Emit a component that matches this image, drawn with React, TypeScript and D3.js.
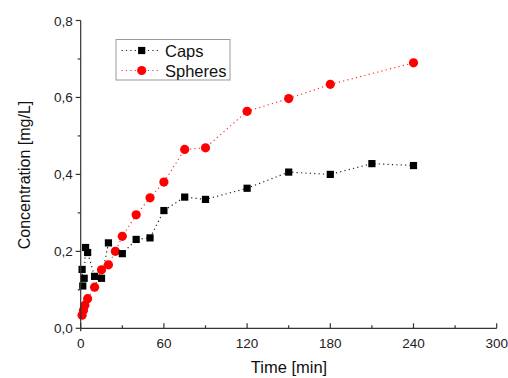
import React from "react";
import * as d3 from "d3";

const capsTime = [1, 1.5, 2.5, 3.5, 5, 10, 15, 20, 30, 40, 50, 60, 75, 90, 120, 150, 180, 210, 240];
const capsConc = [0.153, 0.11, 0.13, 0.21, 0.197, 0.135, 0.13, 0.222, 0.194, 0.231, 0.235, 0.306, 0.341, 0.335, 0.364, 0.406, 0.4, 0.428, 0.423];
const sphTime = [1, 2, 3, 5, 10, 15, 20, 25, 30, 40, 50, 60, 75, 90, 120, 150, 180, 240];
const sphConc = [0.034, 0.047, 0.06, 0.077, 0.107, 0.152, 0.165, 0.2, 0.239, 0.295, 0.339, 0.38, 0.465, 0.469, 0.564, 0.597, 0.634, 0.69];
const xTicks = [0, 60, 120, 180, 240, 300];
const xMinor = [30, 90, 150, 210, 270];
const yTicks = [0, 0.2, 0.4, 0.6, 0.8];
const yMinor = [0.1, 0.3, 0.5, 0.7];

const W = 508, H = 378;
const L = 80.7, R = 496.7, T = 20.5, B = 328.3;
const font = "'Liberation Sans', Arial, sans-serif";

export default function App() {
  const x = d3.scaleLinear().domain([0, 300]).range([L, R]);
  const y = d3.scaleLinear().domain([0, 0.8]).range([B, T]);
  const line = d3.line<[number, number]>().x(d => x(d[0])).y(d => y(d[1]));
  const caps: [number, number][] = capsTime.map((t, i) => [t, capsConc[i]]);
  const sph: [number, number][] = sphTime.map((t, i) => [t, sphConc[i]]);
  const fmt = (v: number) => v.toFixed(1).replace(".", ",");
  const axisColor = "#333";
  return (
    <svg width={W} height={H} style={{ position: "absolute", left: 0, top: 0, background: "#fff" }}>
      <rect width={W} height={H} fill="#fff" />
      <path d={line(sph) || ""} fill="none" stroke="#ff3030" strokeWidth={1.2} strokeDasharray="1.2,3.2" />
      <path d={line(caps) || ""} fill="none" stroke="#222" strokeWidth={1.2} strokeDasharray="1.2,3.2" />
      {sph.map((d, i) => (
        <circle key={"s" + i} cx={x(d[0])} cy={y(d[1])} r={4.6} fill="#f00" />
      ))}
      {caps.map((d, i) => (
        <rect key={"c" + i} x={x(d[0]) - 3.6} y={y(d[1]) - 3.6} width={7.2} height={7.2} fill="#000" />
      ))}
      <line x1={L} x2={L} y1={T} y2={B + 3} stroke={axisColor} strokeWidth={1.2} />
      <line x1={L} x2={R} y1={B} y2={B} stroke={axisColor} strokeWidth={1.2} />
      {yTicks.map(v => (
        <g key={"y" + v}>
          <line x1={L - 5} x2={L} y1={y(v)} y2={y(v)} stroke={axisColor} strokeWidth={1.2} />
          <text x={L - 8} y={y(v) + 5} textAnchor="end" fontFamily={font} fontSize={13.5} fill="#222">{fmt(v)}</text>
        </g>
      ))}
      {yMinor.map(v => (
        <line key={"ym" + v} x1={L - 3} x2={L} y1={y(v)} y2={y(v)} stroke={axisColor} strokeWidth={1.2} />
      ))}
      {xTicks.map(v => (
        <g key={"x" + v}>
          <line x1={x(v)} x2={x(v)} y1={B - 5} y2={B} stroke={axisColor} strokeWidth={1.2} />
          <text x={x(v)} y={B + 20} textAnchor="middle" fontFamily={font} fontSize={13.5} fill="#222">{v}</text>
        </g>
      ))}
      {xMinor.map(v => (
        <line key={"xm" + v} x1={x(v)} x2={x(v)} y1={B - 3} y2={B} stroke={axisColor} strokeWidth={1.2} />
      ))}
      <text x={289} y={373} textAnchor="middle" fontFamily={font} fontSize={16.5} fill="#111">Time [min]</text>
      <text transform={`translate(30,175) rotate(-90)`} textAnchor="middle" fontFamily={font} fontSize={16} fill="#111">Concentration [mg/L]</text>
      <rect x={116} y={39.5} width={114} height={40.5} fill="#fff" stroke="#999" strokeWidth={1} />
      <line x1={121.5} x2={160} y1={50.5} y2={50.5} stroke="#222" strokeWidth={1.2} strokeDasharray="1.2,3.2" />
      <rect x={141.7 - 3.6} y={50.5 - 3.6} width={7.2} height={7.2} fill="#000" />
      <text x={165} y={56.5} fontFamily={font} fontSize={16.5} fill="#111">Caps</text>
      <line x1={121.5} x2={160} y1={70.5} y2={70.5} stroke="#ff3030" strokeWidth={1.2} strokeDasharray="1.2,3.2" />
      <circle cx={141.7} cy={70.5} r={4.6} fill="#f00" />
      <text x={165} y={76.5} fontFamily={font} fontSize={16.5} fill="#111">Spheres</text>
    </svg>
  );
}
